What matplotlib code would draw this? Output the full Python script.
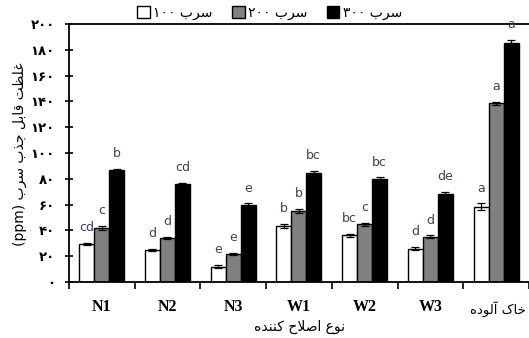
import matplotlib
matplotlib.use("Agg")
import matplotlib.pyplot as plt
from matplotlib.patches import Patch
import numpy as np

# ---------------- data ----------------
categories = ["N1", "N2", "N3", "W1", "W2", "W3", "خاک آلوده"]
series_names = ["سرب ۱۰۰", "سرب ۲۰۰", "سرب ۳۰۰"]
pb100 = [29.2, 24.8, 11.9, 43.4, 36.2, 25.8, 58.4]
pb200 = [42.1, 33.9, 21.7, 55.3, 44.7, 34.9, 138.5]
pb300 = [86.6, 75.7, 59.7, 84.7, 79.6, 68.2, 185.0]
err100 = [0.8, 0.8, 1.5, 1.5, 1.2, 1.2, 2.5]
err200 = [1.5, 0.8, 0.8, 1.5, 1.2, 1.2, 1.2]
err300 = [0.8, 0.8, 1.2, 1.5, 1.5, 1.5, 2.5]
let100 = ["cd", "d", "e", "b", "bc", "d", "a"]
let200 = ["c", "d", "e", "b", "c", "d", "a"]
let300 = ["b", "cd", "e", "bc", "bc", "de", "a"]
yticks = [0, 20, 40, 60, 80, 100, 120, 140, 160, 180, 200]
ylabel = "غلظت قابل جذب سرب (ppm)"
xlabel = "نوع اصلاح کننده"

# ------------- minimal Persian shaping (visual order) -------------
FORMS = {
    'ا': ('\uFE8D', '\uFE8E', None, None),
    'آ': ('\uFE81', '\uFE82', None, None),
    'ب': ('\uFE8F', '\uFE90', '\uFE91', '\uFE92'),
    'ت': ('\uFE95', '\uFE96', '\uFE97', '\uFE98'),
    'ج': ('\uFE9D', '\uFE9E', '\uFE9F', '\uFEA0'),
    'ح': ('\uFEA1', '\uFEA2', '\uFEA3', '\uFEA4'),
    'خ': ('\uFEA5', '\uFEA6', '\uFEA7', '\uFEA8'),
    'د': ('\uFEA9', '\uFEAA', None, None),
    'ذ': ('\uFEAB', '\uFEAC', None, None),
    'ر': ('\uFEAD', '\uFEAE', None, None),
    'س': ('\uFEB1', '\uFEB2', '\uFEB3', '\uFEB4'),
    'ص': ('\uFEB9', '\uFEBA', '\uFEBB', '\uFEBC'),
    'ظ': ('\uFEC5', '\uFEC6', '\uFEC7', '\uFEC8'),
    'ع': ('\uFEC9', '\uFECA', '\uFECB', '\uFECC'),
    'غ': ('\uFECD', '\uFECE', '\uFECF', '\uFED0'),
    'ق': ('\uFED5', '\uFED6', '\uFED7', '\uFED8'),
    'ک': ('\uFB8E', '\uFB8F', '\uFB90', '\uFB91'),
    'ل': ('\uFEDD', '\uFEDE', '\uFEDF', '\uFEE0'),
    'ن': ('\uFEE5', '\uFEE6', '\uFEE7', '\uFEE8'),
    'ه': ('\uFEE9', '\uFEEA', '\uFEEB', '\uFEEC'),
    'و': ('\uFEED', '\uFEEE', None, None),
}
LAMALEF = {'ا': ('\uFEFB', '\uFEFC'), 'آ': ('\uFEF5', '\uFEF6')}


def _dual(c):
    return c in FORMS and FORMS[c][2] is not None


def shape(word):
    res = []
    i, n = 0, len(word)
    while i < n:
        c = word[i]
        prev = word[i - 1] if i > 0 else None
        cp = prev is not None and _dual(prev)
        if c == 'ل' and i + 1 < n and word[i + 1] in LAMALEF:
            lig = LAMALEF[word[i + 1]]
            res.append(lig[1] if cp else lig[0])
            i += 2
            continue
        nxt = word[i + 1] if i + 1 < n else None
        cn = _dual(c) and nxt is not None and nxt in FORMS
        f = FORMS.get(c)
        if f is None:
            res.append(c)
        elif cp and cn:
            res.append(f[3])
        elif cp:
            res.append(f[1])
        elif cn:
            res.append(f[2])
        else:
            res.append(f[0])
        i += 1
    return ''.join(res)


def visual(text):
    words = text.split(' ')
    out = []
    for w in words:
        if any(ch in FORMS for ch in w):
            out.append(shape(w)[::-1])
        else:
            out.append(w)
    return ' '.join(out[::-1])


def fa_digits(v):
    return str(v).translate(str.maketrans("0123456789", "۰۱۲۳۴۵۶۷۸۹"))


# ---------------- plot ----------------
plt.rcParams['font.family'] = ['DejaVu Sans']
fig = plt.figure(figsize=(5.29, 3.38), dpi=100)
ax = fig.add_axes([0.130, 0.166, 0.870, 0.763])

x = np.arange(len(categories)) + 0.5
w = 0.227
colors = ["white", "#808080", "black"]
vals = [pb100, pb200, pb300]
errs = [err100, err200, err300]
lets = [let100, let200, let300]
txtcolor = "#3a4256"
for k in range(3):
    xs = x + (k - 1) * w
    ax.bar(xs, vals[k], w, color=colors[k], edgecolor="black", linewidth=1.0,
           yerr=errs[k], error_kw=dict(ecolor="black", elinewidth=0.9, capsize=3, capthick=0.9),
           zorder=2)
    for xi, v, e, lab in zip(xs, vals[k], errs[k], lets[k]):
        ax.annotate(lab, (xi, v + e), xytext=(0, 8.5), textcoords="offset points",
                    ha="center", va="baseline", fontsize=9, color=txtcolor)

ax.set_xlim(0, len(categories))
ax.set_ylim(0, 200)
ax.set_yticks(yticks)
ax.set_yticklabels([fa_digits(t) for t in yticks], fontsize=9.5, fontweight="bold")
ax.tick_params(axis="y", direction="inout", length=6, width=1.2, pad=7)

ax.set_xticks(np.arange(len(categories) + 1), minor=True)
ax.set_xticks(x)
ax.set_xticklabels([""] * len(categories))
ax.tick_params(axis="x", which="major", length=0, pad=0)
ax.tick_params(axis="x", which="minor", direction="out", length=5, width=1.2)
for xi, c in zip(x, categories):
    if c.startswith(("N", "W")):
        ax.text(xi, -19.5, c, ha="center", va="center",
                fontsize=11.5, fontweight="bold", family="Liberation Serif")
    else:
        ax.text(xi + 0.02, -21, visual(c), ha="center", va="center", fontsize=9.5)

for s in ["left", "bottom", "top"]:
    ax.spines[s].set_linewidth(1.3)
ax.spines["right"].set_visible(False)

fig.text(0.567, 0.032, visual(xlabel), ha="center", va="center", fontsize=10)
fig.text(0.038, 0.545, visual(ylabel), ha="center", va="center", rotation=90, fontsize=10)

handles = [Patch(facecolor=c, edgecolor="black", linewidth=1.0) for c in colors]
labels = [visual(s) for s in series_names]
fig.legend(handles, labels, loc="center", bbox_to_anchor=(0.51, 0.962), ncol=3,
           frameon=False, fontsize=10, handlelength=0.9, handleheight=0.9,
           handletextpad=0.25, columnspacing=1.4, borderaxespad=0)

fig.savefig("out.png", dpi=100)
